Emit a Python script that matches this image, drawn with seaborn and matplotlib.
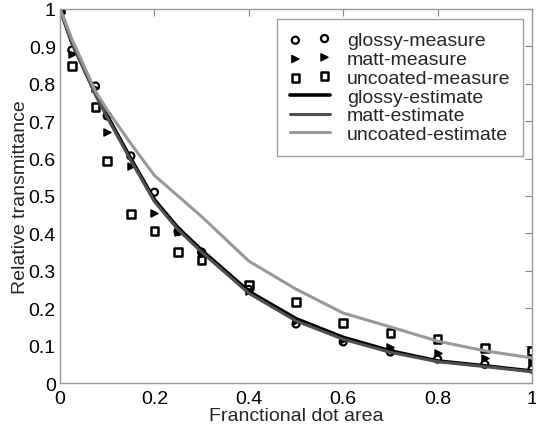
import matplotlib
matplotlib.use("Agg")
import matplotlib.pyplot as plt
import seaborn as sns
import pandas as pd

x_meas = [0, 0.025, 0.075, 0.1, 0.15, 0.2, 0.25, 0.3, 0.4, 0.5, 0.6, 0.7, 0.8, 0.9, 1.0]
glossy_measure = [1.0, 0.89, 0.794, 0.714, 0.607, 0.51, 0.405, 0.35, 0.25, 0.158, 0.11, 0.083, 0.064, 0.05, 0.037]
matt_measure = [1.0, 0.88, 0.79, 0.67, 0.58, 0.455, 0.405, 0.345, 0.245, 0.165, 0.115, 0.096, 0.08, 0.067, 0.055]
uncoated_measure = [1.0, 0.848, 0.738, 0.594, 0.452, 0.406, 0.35, 0.329, 0.262, 0.217, 0.16, 0.134, 0.118, 0.094, 0.086]

x_est = [0, 0.025, 0.075, 0.1, 0.15, 0.2, 0.25, 0.3, 0.4, 0.5, 0.6, 0.7, 0.8, 0.9, 1.0]
glossy_estimate = [1.0, 0.91, 0.775, 0.715, 0.6, 0.49, 0.415, 0.355, 0.245, 0.172, 0.122, 0.086, 0.059, 0.046, 0.032]
matt_estimate = [1.0, 0.91, 0.77, 0.71, 0.595, 0.485, 0.41, 0.35, 0.24, 0.166, 0.117, 0.082, 0.057, 0.044, 0.03]
uncoated_estimate = [1.0, 0.92, 0.78, 0.73, 0.64, 0.555, 0.5, 0.445, 0.326, 0.251, 0.187, 0.15, 0.112, 0.086, 0.067]

sns.set_theme(style="white")
plt.rcParams['font.family'] = ['Liberation Sans', 'DejaVu Sans']

fig = plt.figure(figsize=(5.36, 4.27), dpi=100)
ax = fig.add_axes([0.112, 0.1007, 0.8805, 0.8759])

dm = pd.DataFrame({"x": x_meas, "g": glossy_measure, "m": matt_measure, "u": uncoated_measure})
de = pd.DataFrame({"x": x_est, "g": glossy_estimate, "m": matt_estimate, "u": uncoated_estimate})

sns.scatterplot(data=dm, x="x", y="g", ax=ax, marker="o", s=26, facecolor="none",
                edgecolor="black", linewidth=1.6, label="glossy-measure")
sns.scatterplot(data=dm, x="x", y="m", ax=ax, marker=">", s=26, color="black",
                edgecolor="black", linewidth=1.0, label="matt-measure")
sns.scatterplot(data=dm, x="x", y="u", ax=ax, marker="s", s=30, facecolor="none",
                edgecolor="black", linewidth=1.8, label="uncoated-measure")
sns.lineplot(data=de, x="x", y="g", ax=ax, color="black", linewidth=2.6, label="glossy-estimate")
sns.lineplot(data=de, x="x", y="m", ax=ax, color="#505050", linewidth=2.2, label="matt-estimate")
sns.lineplot(data=de, x="x", y="u", ax=ax, color="#999999", linewidth=2.2, label="uncoated-estimate")

ax.set_xlim(0, 1)
ax.set_ylim(0, 1)
ax.set_xticks([0, 0.2, 0.4, 0.6, 0.8, 1.0])
ax.set_xticklabels(["0", "0.2", "0.4", "0.6", "0.8", "1"])
ax.set_yticks([i / 10 for i in range(11)])
ax.set_yticklabels(["0", "0.1", "0.2", "0.3", "0.4", "0.5", "0.6", "0.7", "0.8", "0.9", "1"])
ax.tick_params(direction="in", top=True, right=True, length=5, width=0.8,
               color="#888888", labelsize=14, labelcolor="black")
ax.tick_params(axis="x", pad=5)
ax.tick_params(axis="y", pad=3)
for sp in ax.spines.values():
    sp.set_color("#999999")
    sp.set_linewidth(1.0)
ax.set_xlabel("Franctional dot area", fontsize=14, labelpad=0)
ax.set_ylabel("Relative transmittance", fontsize=14, labelpad=0)

leg = ax.legend(loc="upper right", bbox_to_anchor=(0.981, 0.973), scatterpoints=2,
                fontsize=14, frameon=True, fancybox=False, borderpad=0.65,
                labelspacing=0.06, handlelength=2.1, handletextpad=0.85, borderaxespad=0)
leg.get_frame().set_edgecolor("#888888")
leg.get_frame().set_linewidth(1.0)

fig.savefig("out.png", dpi=100)
